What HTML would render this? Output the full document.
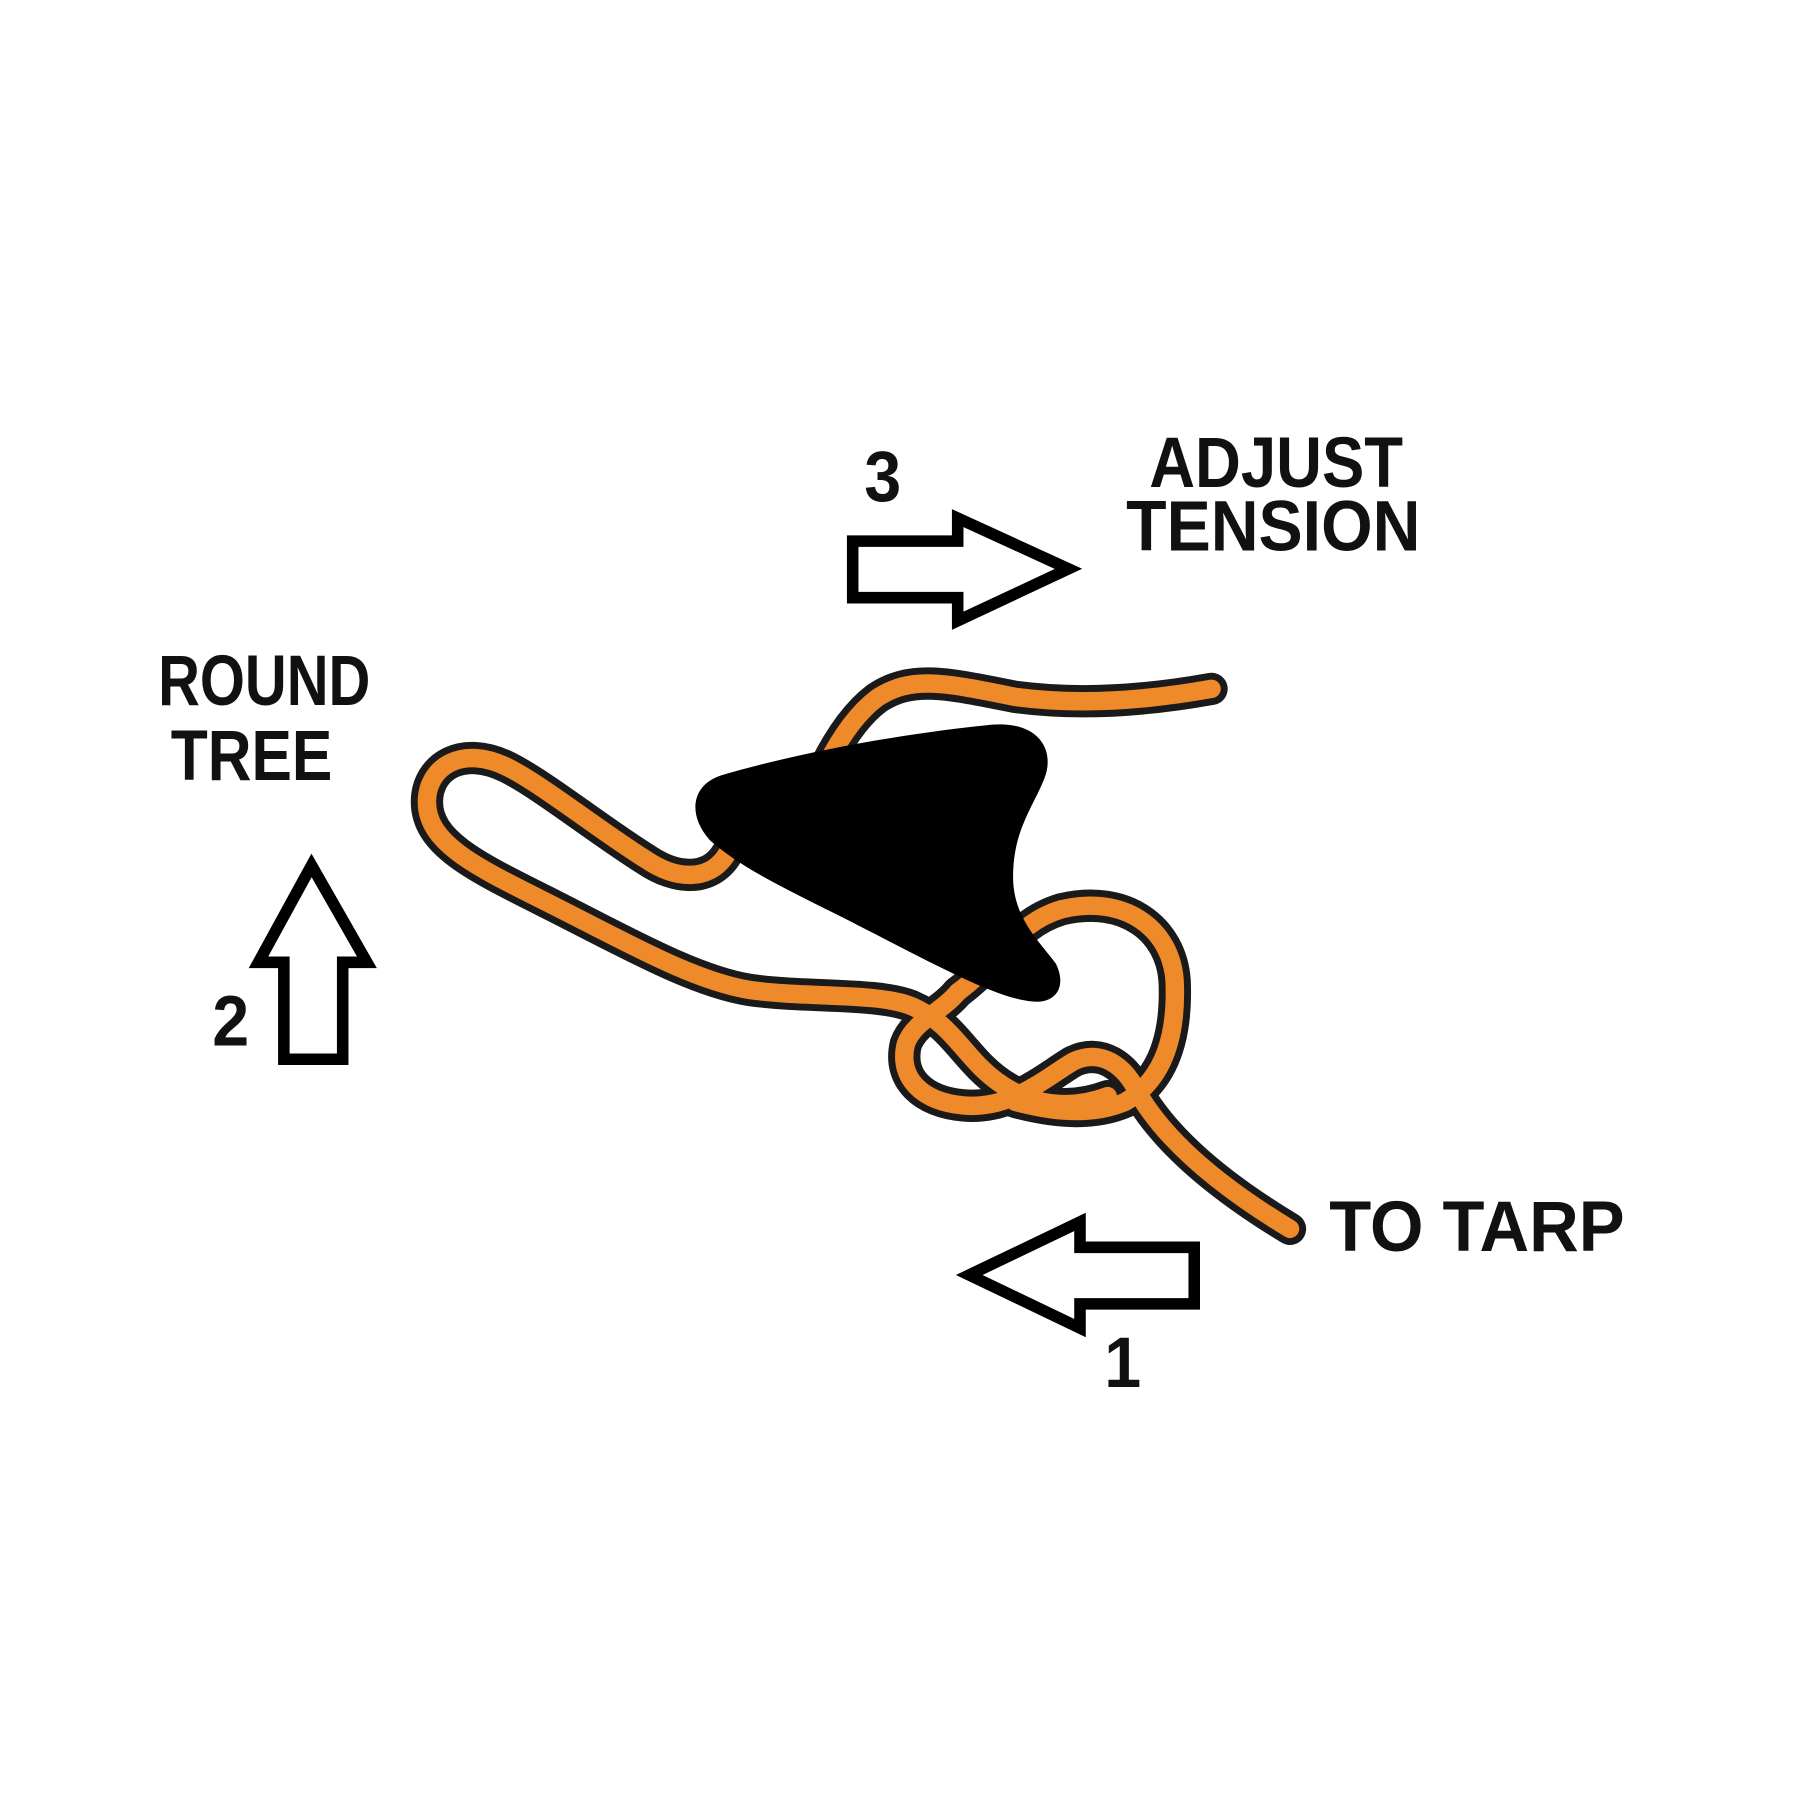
<!DOCTYPE html>
<html><head><style>html,body{margin:0;padding:0;background:#fff}svg{display:block}</style></head>
<body>
<svg width="1800" height="1800" viewBox="0 0 1560 1560" xmlns="http://www.w3.org/2000/svg">
<rect width="1560" height="1560" fill="#fff"/>
<g font-family="Liberation Sans, sans-serif" font-weight="bold" fill="#111" font-size="62">
<text x="996" y="422" textLength="220" lengthAdjust="spacingAndGlyphs">ADJUST</text>
<text x="976" y="477" textLength="255" lengthAdjust="spacingAndGlyphs">TENSION</text>
<text x="749" y="434" textLength="32" lengthAdjust="spacingAndGlyphs">3</text>
<text x="137" y="611" textLength="184" lengthAdjust="spacingAndGlyphs">ROUND</text>
<text x="148" y="676" textLength="140" lengthAdjust="spacingAndGlyphs">TREE</text>
<text x="184" y="906" textLength="32" lengthAdjust="spacingAndGlyphs">2</text>
<text x="1152" y="1084" textLength="256" lengthAdjust="spacingAndGlyphs">TO TARP</text>
<text x="957" y="1202" textLength="32" lengthAdjust="spacingAndGlyphs">1</text>
</g>
<g fill="#fff" stroke="#000" stroke-width="10" stroke-linejoin="miter">
<polygon points="739,469 830,469 830,449 926,493 830,538 830,518 739,518"/>
<polygon points="270,750 318,834 297,834 297,918 246,918 246,834 224,834"/>
<polygon points="840,1105 936,1059 936,1081 1035,1081 1035,1130 936,1130 936,1151"/>
</g>
<g fill="none" stroke-linecap="round" stroke-linejoin="round">
<g stroke="#1a1a1a" stroke-width="28">
<path d="M1050,597 C1000,606 940,612 880,604 C820,592 790,585 760,605 C740,620 725,645 715,665"/>
<path d="M630,740 C615,765 585,762 560,745 C520,720 470,680 440,665 C400,645 370,665 370,695 C370,730 410,750 470,780 C540,815 600,850 650,858 C700,865 760,860 790,872 C820,885 830,905 850,925 C880,955 920,965 960,950"/>
<path d="M830,860 C815,878 792,885 785,905 C778,935 800,955 835,958 C875,962 905,935 930,920 C955,908 975,925 985,945"/>
<path d="M830,860 C870,830 880,800 920,788 C975,775 1015,805 1018,850 C1020,895 1010,935 975,955 C940,970 900,960 880,955"/>
<path d="M985,945 C1010,990 1060,1030 1118,1065"/>
</g>
<g stroke="#ee8a2a" stroke-width="16">
<path d="M1050,597 C1000,606 940,612 880,604 C820,592 790,585 760,605 C740,620 725,645 715,665"/>
<path d="M630,740 C615,765 585,762 560,745 C520,720 470,680 440,665 C400,645 370,665 370,695 C370,730 410,750 470,780 C540,815 600,850 650,858 C700,865 760,860 790,872 C820,885 830,905 850,925 C880,955 920,965 960,950"/>
<path d="M830,860 C815,878 792,885 785,905 C778,935 800,955 835,958 C875,962 905,935 930,920 C955,908 975,925 985,945"/>
<path d="M830,860 C870,830 880,800 920,788 C975,775 1015,805 1018,850 C1020,895 1010,935 975,955 C940,970 900,960 880,955"/>
<path d="M985,945 C1010,990 1060,1030 1118,1065"/>
</g>
</g>
<path d="M625,672 C700,650 790,635 860,628 C900,625 915,650 905,675 C895,700 878,720 878,760 C878,795 900,815 915,835 C925,855 915,870 895,868 C860,865 800,830 720,790 C670,765 640,750 615,728 C595,705 600,680 625,672 Z" fill="#000"/>
</svg>
</body></html>
